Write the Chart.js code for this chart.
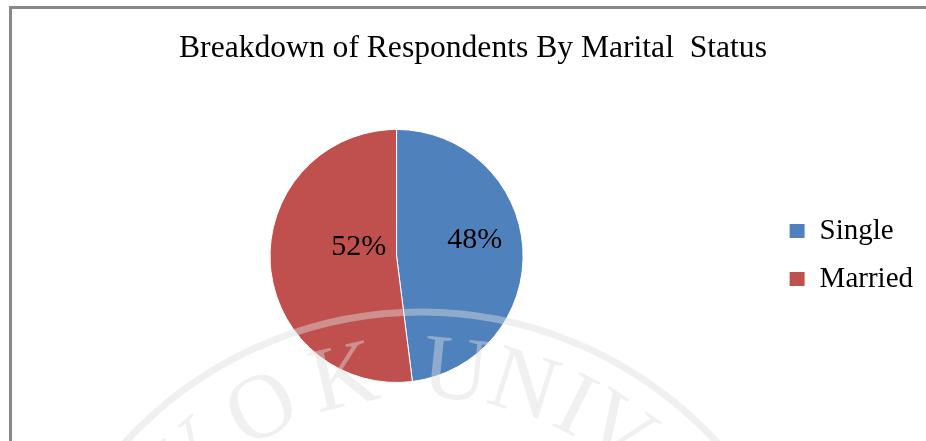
<!DOCTYPE html>
<html>
<head>
<meta charset="utf-8">
<script src="https://cdn.jsdelivr.net/npm/chart.js@4.4.0/dist/chart.umd.min.js"></script>
<style>
  html, body { margin: 0; padding: 0; background: #fff; }
  #wrap { position: relative; width: 926px; height: 441px; overflow: hidden; }
  #frame { position: absolute; left: 9px; top: 6px; right: 0; bottom: -5px;
           border-left: 3px solid #888; border-top: 3px solid #888; }
  canvas { position: absolute; left: 0; top: 0; }
</style>
</head>
<body>
<div id="wrap">
  <div id="frame"></div>
  <canvas id="pie" width="926" height="441"></canvas>
</div>
<script>
// marital status breakdown
const categories = ['Single', 'Married'];
const shares = [48, 52];
const pctLabels = ['48%', '52%'];
const sliceColors = ['#4F81BD', '#C0504D'];

const serif = "'Liberation Serif', 'Times New Roman', serif";

// percent labels inside the slices (Excel-like placement)
const labelPos = [0.62, 0.3];
const pctPlugin = {
    id: 'pctLabels',
    afterDatasetsDraw(chart) {
        const ctx = chart.ctx;
        const arcs = chart.getDatasetMeta(0).data;
        ctx.save();
        ctx.font = '30px ' + serif;
        ctx.fillStyle = '#000';
        ctx.textAlign = 'center';
        ctx.textBaseline = 'middle';
        arcs.forEach((arc, i) => {
            const p = arc.getProps(['x', 'y', 'startAngle', 'endAngle', 'outerRadius'], true);
            const mid = (p.startAngle + p.endAngle) / 2;
            const r = p.outerRadius * labelPos[i];
            const x = p.x + Math.cos(mid) * r;
            const y = p.y + Math.sin(mid) * r - p.outerRadius * 0.09;
            ctx.fillText(pctLabels[i], x, y);
        });
        ctx.restore();
    }
};

// faint watermark seal laid over the picture
const watermark = {
    id: 'watermark',
    afterDraw(chart) {
        const ctx = chart.ctx;
        const cx = 421, cy = 713;
        ctx.save();
        ctx.strokeStyle = 'rgba(222,222,222,0.45)';
        ctx.lineWidth = 7;
        ctx.beginPath();
        ctx.arc(cx, cy, 401, 0, Math.PI * 2);
        ctx.stroke();
        ctx.fillStyle = 'rgba(222,222,222,0.45)';
        ctx.font = '92px ' + serif;
        ctx.textAlign = 'center';
        ctx.textBaseline = 'middle';
        const letters = ['Y', 'O', 'K', 'U', 'N', 'I', 'V'];
        const angles = [-42, -27.6, -12.9, 5.8, 17.4, 26.7, 34.8];
        letters.forEach((ch, i) => {
            const a = angles[i] * Math.PI / 180;
            ctx.save();
            ctx.translate(cx + Math.sin(a) * 340, cy - Math.cos(a) * 340);
            ctx.rotate(a);
            ctx.fillText(ch, 0, 0);
            ctx.restore();
        });
        ctx.restore();
    }
};

new Chart(document.getElementById('pie'), {
    type: 'pie',
    data: {
        labels: categories,
        datasets: [{
            data: shares,
            backgroundColor: sliceColors,
            borderColor: '#fff',
            borderWidth: 1
        }]
    },
    options: {
        responsive: false,
        animation: false,
        layout: { padding: { left: 23, right: 3, top: 0, bottom: 58 } },
        plugins: {
            title: {
                display: true,
                text: 'Breakdown of Respondents By Marital  Status',
                color: '#000',
                font: { family: serif, size: 31.6, weight: 'normal' },
                padding: { top: 30, bottom: 61 }
            },
            legend: {
                position: 'right',
                title: {
                    display: true,
                    text: '',
                    font: { size: 10 },
                    padding: { top: 57, bottom: 58 }
                },
                labels: {
                    color: '#000',
                    font: { family: serif, size: 29 },
                    boxWidth: 16,
                    boxHeight: 15,
                    padding: 19
                }
            },
            tooltip: { enabled: false }
        }
    },
    plugins: [pctPlugin, watermark]
});
</script>
</body>
</html>
